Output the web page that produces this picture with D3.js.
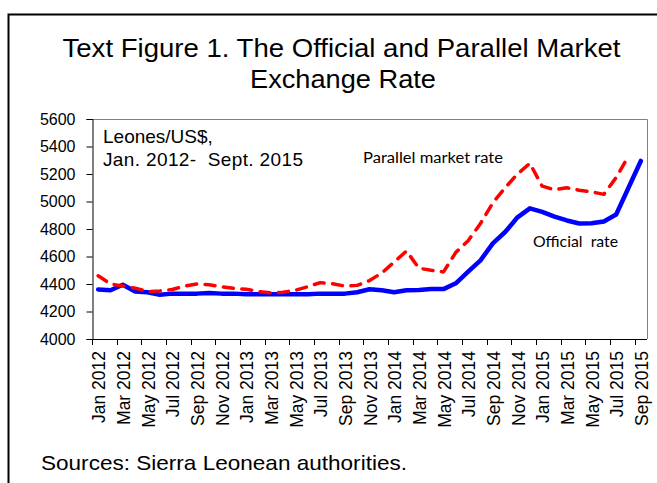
<!DOCTYPE html>
<html>
<head>
<meta charset="utf-8">
<script src="https://cdn.jsdelivr.net/npm/d3@7"></script>
<style>
  html, body { margin: 0; padding: 0; background: #fff; }
  svg { display: block; }
  text { font-family: "Liberation Sans", Arial, sans-serif; fill: #000; }
</style>
</head>
<body>
<svg id="chart" width="657" height="483"></svg>
<script>
// ---- data ----
const monthNames = ["Jan","Feb","Mar","Apr","May","Jun","Jul","Aug","Sep","Oct","Nov","Dec"];
const years = [2012, 2013, 2014, 2015];
const months = [];
years.forEach(yr => monthNames.forEach(m => { if (months.length < 45) months.push(m + " " + yr); }));

const official = [
  4360, 4355, 4395, 4345, 4340, 4322, 4330, 4330, 4330, 4335, 4330, 4330,
  4325, 4325, 4325, 4325, 4325, 4325, 4330, 4330, 4330, 4340, 4362, 4355,
  4340, 4355, 4357, 4363, 4363, 4405, 4490, 4572, 4695, 4778, 4885, 4950,
  4925, 4890, 4862, 4840, 4842, 4855, 4905, 5100, 5295
];
const parallel = [
  4460, 4400, 4385, 4370, 4345, 4350, 4360, 4385, 4400, 4395, 4380, 4368,
  4362, 4345, 4335, 4340, 4355, 4380, 4410, 4402, 4385, 4390, 4425, 4480,
  4560, 4640, 4515, 4500, 4488, 4630, 4715, 4840, 4990, 5100, 5200, 5278,
  5112, 5085, 5100, 5082, 5070, 5052, 5175, 5330, null
];
const yTicks = [4000, 4200, 4400, 4600, 4800, 5000, 5200, 5400, 5600];
const xLabelMonths = months.filter((m, i) => i % 2 === 0);

const titleLines = ["Text Figure 1. The Official and Parallel Market", "Exchange Rate"];
const unitLines = ["Leones/US$,", "Jan. 2012-  Sept. 2015"];
const seriesNames = ["Official  rate", "Parallel market rate"];
const sourceText = "Sources: Sierra Leonean authorities.";

// ---- layout ----
const svg = d3.select("#chart");
const pL = 92, pR = 647, pT = 119, pB = 339;

const x = d3.scaleBand().domain(months).range([pL, pR]).paddingInner(0).paddingOuter(0);
const y = d3.scaleLinear().domain([4000, 5600]).range([pB, pT]);

// outer frame
svg.append("path")
  .attr("d", `M8.5,${483 + 10} L8.5,14.5 L${657 + 10},14.5`)
  .attr("fill", "none").attr("stroke", "#000").attr("stroke-width", 2);

// title
svg.append("text").attr("x", 341.5).attr("y", 57).attr("text-anchor", "middle")
  .attr("font-size", 26).attr("textLength", 558).attr("lengthAdjust", "spacingAndGlyphs")
  .text(titleLines[0]);
svg.append("text").attr("x", 343).attr("y", 88).attr("text-anchor", "middle")
  .attr("font-size", 26).attr("textLength", 186).attr("lengthAdjust", "spacingAndGlyphs")
  .text(titleLines[1]);

// plot area box (gray top/right)
svg.append("path")
  .attr("d", `M${pL},${pT + 0.5} L${pR + 0.5},${pT + 0.5} L${pR + 0.5},${pB}`)
  .attr("fill", "none").attr("stroke", "#808080").attr("stroke-width", 1);

// y axis
const yAxis = svg.append("g").attr("transform", `translate(${pL + 0.5},0)`)
  .call(d3.axisLeft(y).tickValues(yTicks).tickSize(6).tickPadding(11).tickFormat(d3.format("d")));
yAxis.select(".domain").attr("stroke", "#000");
yAxis.selectAll(".tick line").attr("stroke", "#000");
yAxis.selectAll("text").attr("font-size", 16).attr("font-family", "Liberation Sans, Arial, sans-serif").attr("fill", "#000");

// x axis baseline
svg.append("line").attr("x1", pL).attr("x2", pR).attr("y1", pB + 0.5).attr("y2", pB + 0.5)
  .attr("stroke", "#000").attr("stroke-width", 1);
// x tick marks at band boundaries every 2 months
svg.append("g").selectAll("line").data(xLabelMonths).join("line")
  .attr("x1", d => Math.round(x(d)) + 0.5).attr("x2", d => Math.round(x(d)) + 0.5)
  .attr("y1", pB).attr("y2", pB + 6)
  .attr("stroke", "#000").attr("stroke-width", 1);
// x labels
svg.append("g").selectAll("text").data(xLabelMonths).join("text")
  .attr("transform", d => `translate(${x(d) + x.bandwidth() / 2 + 1},351) rotate(-90)`)
  .attr("text-anchor", "end").attr("dy", "0.36em")
  .attr("font-size", 17.5)
  .text(d => d);

// lines
const lineGen = d3.line()
  .defined(d => d.v !== null)
  .x(d => x(d.m) + x.bandwidth() / 2)
  .y(d => y(d.v));

svg.append("path")
  .datum(months.map((m, i) => ({ m, v: official[i] })))
  .attr("d", lineGen)
  .attr("fill", "none").attr("stroke", "#0000FF").attr("stroke-width", 4.5)
  .attr("stroke-linejoin", "round").attr("stroke-linecap", "round");

svg.append("path")
  .datum(months.map((m, i) => ({ m, v: parallel[i] })))
  .attr("d", lineGen)
  .attr("fill", "none").attr("stroke", "#FF0000").attr("stroke-width", 3.5)
  .attr("stroke-dasharray", "10,8.5")
  .attr("stroke-linejoin", "round").attr("stroke-linecap", "round");

// unit annotation
svg.append("text").attr("x", 103).attr("y", 143).attr("font-size", 19).text(unitLines[0]);
svg.append("text").attr("x", 103).attr("y", 166).attr("font-size", 19)
  .attr("textLength", 200).attr("lengthAdjust", "spacing")
  .attr("xml:space", "preserve").text(unitLines[1]);

// series labels
svg.append("text").attr("x", 363).attr("y", 163).attr("font-size", 14.5)
  .style("font-family", "Lato, 'Open Sans', sans-serif")
  .attr("textLength", 140).attr("lengthAdjust", "spacingAndGlyphs")
  .text(seriesNames[1]);
svg.append("text").attr("x", 533).attr("y", 247).attr("font-size", 15)
  .style("font-family", "Lato, 'Open Sans', sans-serif")
  .attr("textLength", 85).attr("lengthAdjust", "spacingAndGlyphs")
  .attr("xml:space", "preserve")
  .text(seriesNames[0]);

// source
svg.append("text").attr("x", 41).attr("y", 470).attr("font-size", 21)
  .attr("textLength", 366).attr("lengthAdjust", "spacingAndGlyphs")
  .text(sourceText);
</script>
</body>
</html>
